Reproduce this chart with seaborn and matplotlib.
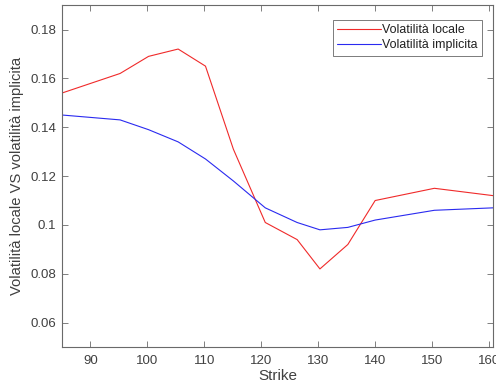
import numpy as np
import pandas as pd
import matplotlib
matplotlib.use("Agg")
import matplotlib.pyplot as plt
import seaborn as sns

# Strike grid and the two volatility curves
strike = [85.0, 95.2, 100.2, 105.4, 110.2, 115.1, 120.7, 126.3, 130.3, 135.2, 140.0, 150.4, 160.7]
vol_locale = [0.154, 0.162, 0.169, 0.172, 0.165, 0.131, 0.101, 0.094, 0.082, 0.092, 0.110, 0.115, 0.112]
vol_implicita = [0.145, 0.143, 0.139, 0.134, 0.127, 0.118, 0.107, 0.101, 0.098, 0.099, 0.102, 0.106, 0.107]

series_names = ["Volatilità locale", "Volatilità implicita"]
x_ticks = [90, 100, 110, 120, 130, 140, 150, 160]
y_ticks = [0.06, 0.08, 0.1, 0.12, 0.14, 0.16, 0.18]
y_tick_labels = ["0.06", "0.08", "0.1", "0.12", "0.14", "0.16", "0.18"]

df = pd.concat([
    pd.DataFrame({"Strike": strike, "vol": vol_locale, "serie": series_names[0]}),
    pd.DataFrame({"Strike": strike, "vol": vol_implicita, "serie": series_names[1]}),
])

sns.set_theme(style="white")
plt.rcParams["font.family"] = ["Liberation Sans", "DejaVu Sans"]

fig = plt.figure(figsize=(4.96, 3.90), dpi=100)
ax = fig.add_axes([0.125, 0.110, 0.869, 0.877])

sns.lineplot(data=df, x="Strike", y="vol", hue="serie", hue_order=series_names,
             palette=["#f02a2a", "#2a2af0"], linewidth=0.8, ax=ax, sort=False)

ax.set_xlim(min(strike), max(strike))
ax.set_ylim(0.05, 0.19)
ax.set_xticks(x_ticks)
ax.set_yticks(y_ticks)
ax.set_yticklabels(y_tick_labels)

axis_col = "#404040"
for s in ax.spines.values():
    s.set_visible(True)
    s.set_color("#6a6a6a")
    s.set_linewidth(0.8)
ax.tick_params(direction="in", length=4, width=0.6, color="#6a6a6a",
               labelcolor=axis_col, labelsize=9.5, top=True, right=True,
               bottom=True, left=True)
ax.tick_params(axis="x", pad=6)
ax.tick_params(axis="y", pad=4)

ax.set_xlabel("Strike", fontsize=11, color=axis_col, labelpad=1)
ax.set_ylabel("Volatilità locale VS volatilità implicita", fontsize=10.6,
              color=axis_col, labelpad=5)

leg = ax.legend(loc="upper right", fontsize=8.9, frameon=True, fancybox=False,
                borderpad=0.35, handlelength=3.5, handletextpad=0.1,
                labelspacing=0.25, bbox_to_anchor=(0.988, 0.975))
leg.get_frame().set_edgecolor("#404040")
leg.get_frame().set_linewidth(0.6)
for t in leg.get_texts():
    t.set_color("#202020")

fig.savefig("out.png", dpi=100)
